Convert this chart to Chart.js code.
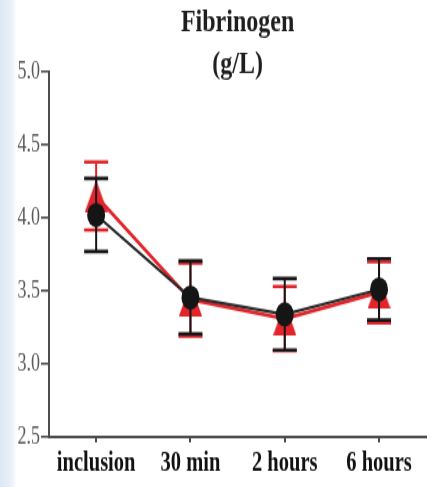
<!DOCTYPE html>
<html>
<head>
<meta charset="utf-8">
<script src="https://cdn.jsdelivr.net/npm/chart.js@4.4.1/dist/chart.umd.min.js"></script>
<style>
  html, body { margin: 0; padding: 0; }
  body {
    width: 441px; height: 487px; overflow: hidden;
    background: linear-gradient(to right, #dce8f4 0px, #e8f0f8 11px, #ffffff 17px);
  }
  #fib { display: block; }
</style>
</head>
<body>
<!-- drawn at 360px tall, shown at 487px: tall serif look of the original figure -->
<canvas id="fib" width="441" height="360" style="width:441px;height:487px"></canvas>
<script>
// time points
var temps = ["inclusion", "30 min", "2 hours", "6 hours"];

// group 1 (black circles): mean and error
var moyNoir = [4.02, 3.455, 3.34, 3.51];
var errNoir = [0.25, 0.25, 0.245, 0.21];

// group 2 (red triangles): mean and error
var moyRouge = [4.15, 3.44, 3.31, 3.49];
var errRouge = [0.233, 0.25, 0.22, 0.21];

var yTicks = [2.5, 3.0, 3.5, 4.0, 4.5, 5.0];

var ROUGE = '#e2252b';
var NOIR = '#151515';

// triangle marker, centred on its box (taller than Chart.js' own triangle)
function Triangle(couleur, larg, haut) {
    var c = document.createElement('canvas');
    c.width = larg;
    c.height = haut;
    var g = c.getContext('2d');
    g.fillStyle = couleur;
    g.beginPath();
    g.moveTo(larg / 2, 0);
    g.lineTo(larg, haut);
    g.lineTo(0, haut);
    g.closePath();
    g.fill();
    return c;
}

//------------------------------------ barres d'erreur ------------------------------------
var errorBars = {
    id: 'errorBars',
    beforeDatasetDraw: function (chart, args) {
        var ds = chart.data.datasets[args.index];
        if (!ds.errors) return;
        var y = chart.scales.y;
        var ctx = chart.ctx;
        ctx.save();
        ctx.strokeStyle = ds.errorColor;
        args.meta.data.forEach(function (pt, i) {
            var haut = y.getPixelForValue(ds.data[i] + ds.errors[i]);
            var bas = y.getPixelForValue(ds.data[i] - ds.errors[i]);
            ctx.lineWidth = 2;
            ctx.beginPath();
            ctx.moveTo(pt.x, haut);
            ctx.lineTo(pt.x, bas);
            ctx.stroke();
            ctx.lineWidth = 2.6;
            ctx.beginPath();
            ctx.moveTo(pt.x - 12, haut);
            ctx.lineTo(pt.x + 12, haut);
            ctx.moveTo(pt.x - 12, bas);
            ctx.lineTo(pt.x + 12, bas);
            ctx.stroke();
        });
        ctx.restore();
    }
};

var serif = "'Liberation Serif', 'DejaVu Serif', serif";

new Chart(document.getElementById('fib').getContext('2d'), {
    type: 'line',
    data: {
        labels: temps,
        datasets: [{
            label: 'noir',
            data: moyNoir,
            errors: errNoir,
            errorColor: NOIR,
            borderColor: '#2a2a2a',
            borderWidth: 2.2,
            pointStyle: 'circle',
            pointRadius: 9,
            pointBackgroundColor: NOIR,
            pointBorderColor: NOIR,
            pointBorderWidth: 0,
            tension: 0,
            order: 1
        }, {
            label: 'rouge',
            data: moyRouge,
            errors: errRouge,
            errorColor: ROUGE,
            borderColor: ROUGE,
            borderWidth: 2.8,
            pointStyle: Triangle(ROUGE, 23, 24),
            pointRadius: 12,
            tension: 0,
            order: 2
        }]
    },
    options: {
        responsive: false,
        animation: false,
        events: [],
        layout: { padding: 0 },
        plugins: {
            legend: { display: false },
            tooltip: { enabled: false },
            title: {
                display: true,
                fullSize: false,
                text: ['Fibrinogen', '(g/L)'],
                color: '#1e1e1e',
                font: { family: serif, size: 24, weight: 'bold', lineHeight: 1.29 },
                padding: { top: 1.5, bottom: -10.3 }
            }
        },
        scales: {
            x: {
                offset: true,
                afterFit: function (s) { s.height = 37; },
                border: { display: true, color: '#4d4d4d', width: 2 },
                grid: { drawOnChartArea: false, drawTicks: true, tickLength: 4, color: '#4d4d4d', lineWidth: 2 },
                ticks: {
                    color: '#111',
                    padding: 3,
                    maxRotation: 0,
                    autoSkip: false,
                    font: { family: serif, size: 20.5, weight: 'bold' }
                }
            },
            y: {
                min: 2.5,
                max: 5.0,
                afterFit: function (s) { s.width = 49; },
                afterBuildTicks: function (s) {
                    s.ticks = yTicks.map(function (v) { return { value: v }; });
                },
                border: { display: true, color: '#4d4d4d', width: 2 },
                grid: { drawOnChartArea: false, drawTicks: true, tickLength: 8, color: '#4d4d4d', lineWidth: 1.6 },
                ticks: {
                    color: '#595959',
                    padding: 1,
                    font: { family: serif, size: 18 },
                    callback: function (v) { return v.toFixed(1); }
                }
            }
        }
    },
    plugins: [errorBars]
});
</script>
</body>
</html>
